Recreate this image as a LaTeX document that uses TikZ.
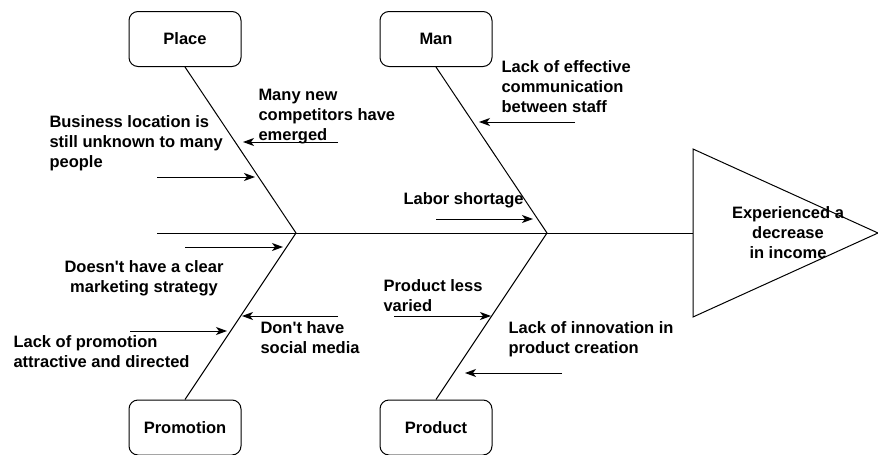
\documentclass[tikz,border=0pt]{standalone}
\usepackage{fontspec}
\setmainfont{Liberation Sans}
\usetikzlibrary{arrows.meta}
\begin{document}
\begin{tikzpicture}[x=1pt,y=-1pt,
  line width=1pt,
  catbox/.style={draw, rounded corners=9pt, minimum width=112pt, minimum height=55pt, inner sep=0pt, font=\bfseries\fontsize{16.5}{20}\selectfont},
  txt/.style={inner sep=0pt, align=left, anchor=west, font=\bfseries\fontsize{16.5}{20}\selectfont},
  ctxt/.style={inner sep=0pt, align=center, anchor=center, font=\bfseries\fontsize{16.5}{20}\selectfont},
  arr/.style={-{Stealth[length=11pt,width=8pt,inset=3pt]}}]
\useasboundingbox (0,0) rectangle (878,455);
% category boxes
\node[catbox] (place) at (185,39) {Place};
\node[catbox] (man) at (436,39) {Man};
\node[catbox] (promo) at (185,427.5) {Promotion};
\node[catbox] (prod) at (436,427.5) {Product};
% spine and junctions
\coordinate (s0) at (157,233);
\coordinate (j1) at (296,233);
\coordinate (j2) at (547,233);
\coordinate (t1) at (693,149);
\coordinate (t2) at (878,233);
\coordinate (t3) at (693,317);
\coordinate (tl) at (693,233);
\draw (t1) -- (t2) -- (t3) -- cycle;
\node[ctxt] (effect) at (788,233) {Experienced a\\decrease\\in income};
\draw (s0) -- (tl);
% bones
\draw (place.south) -- (j1);
\draw (man.south) -- (j2);
\draw (promo.north) -- (j1);
\draw (prod.north) -- (j2);
% cause texts
\node[txt] (c1) at (49,143.7) {Business location is\\still unknown to many\\people};
\node[txt] (c2) at (258,116.7) {Many new\\competitors have\\emerged};
\node[ctxt] (c3) at (144,278) {Doesn\textquotesingle t have a clear\\marketing strategy};
\node[txt] (c4) at (13,352) {Lack of promotion\\attractive and directed};
\node[txt] (c5) at (260,337.5) {Don\textquotesingle t have\\social media};
\node[txt] (c6) at (501,86.7) {Lack of effective\\communication\\between staff};
\node[txt] (c7) at (403,200) {Labor shortage};
\node[txt] (c8) at (383,296) {Product less\\varied};
\node[txt] (c9) at (508,339.5) {Lack of innovation in\\product creation};
% cause arrows
\coordinate (a1s) at (338,142); \coordinate (a1e) at (243,142);
\coordinate (a2s) at (157,177); \coordinate (a2e) at (255,177);
\coordinate (a3s) at (185,247); \coordinate (a3e) at (283,247);
\coordinate (a4s) at (338,316); \coordinate (a4e) at (242,316);
\coordinate (a5s) at (130,331); \coordinate (a5e) at (227,331);
\coordinate (a6s) at (575,122); \coordinate (a6e) at (479,122);
\coordinate (a7s) at (436,219); \coordinate (a7e) at (533,219);
\coordinate (a8s) at (394,316); \coordinate (a8e) at (491,316);
\coordinate (a9s) at (562,373); \coordinate (a9e) at (465,373);
\foreach \i in {1,...,9} {\draw[arr] (a\i s) -- (a\i e);}
\end{tikzpicture}
\end{document}
